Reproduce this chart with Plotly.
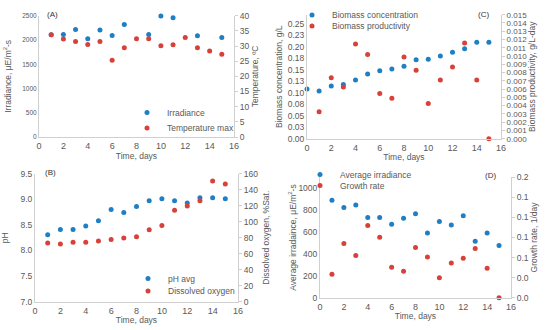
import plotly.graph_objects as go

# ---------------- data ----------------
days = list(range(1, 16))

# Panel A
irr_days = [1, 2, 3, 4, 5, 6, 7, 9, 10, 11, 13, 15]
irradiance = [2105, 2114, 2218, 2025, 2204, 2094, 2321, 2114, 2493, 2459, 2087, 2052]
temp_max = [33.7, 32.3, 31.5, 30.5, 31.5, 25.3, 29.4, 32.4, 32.4, 30.1, 30.4, 32.8, 29.4, 28.4, 27.3]

# Panel C
conc_days = list(range(0, 16))
biomass_conc = [0.108, 0.104, 0.115, 0.118, 0.128, 0.141, 0.148, 0.152, 0.158, 0.172,
                0.173, 0.180, 0.188, 0.196, 0.210, 0.210]
biomass_prod = [0.00327, 0.00738, 0.00625, 0.01145, 0.0102, 0.00548, 0.00488, 0.00988,
                0.00827, 0.00427, 0.0071, 0.00867, 0.01157, 0.0071, 0.0]
conc_tickvals = [0, 0.025, 0.05, 0.075, 0.1, 0.125, 0.15, 0.175, 0.2, 0.225, 0.25]
conc_ticktext = ['0.00', '0.03', '0.05', '0.08', '0.10', '0.13', '0.15', '0.18', '0.20', '0.23', '0.25']

# Panel B
ph_avg = [8.31, 8.41, 8.41, 8.48, 8.58, 8.80, 8.74, 8.86, 8.97, 9.01, 8.97, 8.93, 9.03, 9.03, 9.01]
dissolved_oxygen = [73.3, 72.1, 74.2, 74.2, 75.8, 77.9, 79.6, 81.3, 90.0, 95.4, 114.2, 119.6,
                    126.3, 150.8, 147.1]

# Panel D
avg_irradiance = [891, 824, 848, 733, 733, 670, 727, 767, 591, 697, 664, 748, 515, 591, 476]
growth_rate = [0.0292, 0.0675, 0.0525, 0.090, 0.0754, 0.0379, 0.0329, 0.0625, 0.0508, 0.025,
               0.0433, 0.0492, 0.0613, 0.0367, 0.0]
gr_tickvals = [0, 0.025, 0.05, 0.075, 0.1, 0.125, 0.15]
gr_ticktext = ['0.0', '0.0', '0.1', '0.1', '0.1', '0.1', '0.2']

x_ticks = [0, 2, 4, 6, 8, 10, 12, 14, 16]

# ---------------- style ----------------
BLUE = '#1f7fc4'
RED = '#d8413a'
TXT = '#595959'
LINE = '#d0d0d0'
FONT = 'Liberation Sans, Arial, sans-serif'
FS = 8.5
MS = 5

fig = go.Figure()

def sc(x, y, name, color, xa, ya, legend):
    fig.add_trace(go.Scatter(x=x, y=y, mode='markers', name=name, cliponaxis=False,
                             marker=dict(color=color, size=MS),
                             xaxis=xa, yaxis=ya, legend=legend))

sc(irr_days, irradiance, 'Irradiance', BLUE, 'x', 'y', 'legend')
sc(days, temp_max, 'Temperature max', RED, 'x', 'y2', 'legend2')
sc(conc_days, biomass_conc, 'Biomass concentration', BLUE, 'x2', 'y3', 'legend3')
sc(days, biomass_prod, 'Biomass productivity', RED, 'x2', 'y4', 'legend4')
sc(days, ph_avg, 'pH avg', BLUE, 'x3', 'y5', 'legend5')
sc(days, dissolved_oxygen, 'Dissolved oxygen', RED, 'x3', 'y6', 'legend6')
sc(days, avg_irradiance, 'Average irradiance', BLUE, 'x4', 'y7', 'legend7')
sc(days, growth_rate, 'Growth rate', RED, 'x4', 'y8', 'legend8')

def tfont(size=FS):
    return dict(size=size, color=TXT, family=FONT)

def xax(domain, anchor):
    return dict(domain=domain, anchor=anchor, range=[0, 16], tickvals=x_ticks, automargin=False,
                showline=True, linecolor=LINE, linewidth=1, showgrid=False, zeroline=False,
                ticks='', tickfont=tfont(9),
                title=dict(text='Time, days', font=tfont(8.5), standoff=0))

def yleft(domain, anchor, rng, title, tsize=FS, standoff=3, **kw):
    d = dict(domain=domain, anchor=anchor, range=rng, showline=True, linecolor=LINE, linewidth=1,
             showgrid=False, zeroline=False, ticks='', tickfont=tfont(tsize), automargin=False,
             title=dict(text=title, font=tfont(8.5), standoff=standoff))
    d.update(kw)
    return d

def yright(overlay, anchor, rng, title, tsize=FS, standoff=3, **kw):
    d = dict(overlaying=overlay, anchor=anchor, side='right', range=rng, showline=True,
             linecolor=LINE, linewidth=1, showgrid=False, zeroline=False, automargin=False,
             ticks='outside', ticklen=3, tickcolor=LINE, tickfont=tfont(tsize),
             title=dict(text=title, font=tfont(8.5), standoff=standoff))
    d.update(kw)
    return d

dA_x = [39/550, 234/550]; dA_y = [1-137/330, 1-15.7/330]
dC_x = [307/550, 501/550]; dC_y = [1-138.7/330, 1-14.7/330]
dB_x = [35/550, 238/550]; dB_y = [1-301.7/330, 1-173.7/330]
dD_x = [320/550, 511/550]; dD_y = [1-297.7/330, 1-177.3/330]

def leg(text_x, item_y):
    return dict(x=(text_x - 40) / 550, y=1 - item_y / 330, xanchor='left', yanchor='middle',
                bgcolor='rgba(0,0,0,0)', font=tfont(8.5), itemsizing='trace', borderwidth=0)

fig.update_layout(
    width=550, height=330, margin=dict(l=0, r=0, t=0, b=0, autoexpand=False),
    paper_bgcolor='white', plot_bgcolor='white',
    font=dict(family=FONT, color=TXT),
    showlegend=True,
    xaxis=xax(dA_x, 'y'),
    yaxis=yleft(dA_y, 'x', [0, 2500], 'Irradiance, μE/m<sup>2</sup>-s', tsize=6.5, standoff=9,
                tickvals=[0, 500, 1000, 1500, 2000, 2500]),
    yaxis2=yright('y', 'x', [0, 40], 'Temperature, ºC', tickvals=list(range(0, 41, 5))),
    xaxis2=xax(dC_x, 'y3'),
    yaxis3=yleft(dC_y, 'x2', [0, 0.27], 'Biomass concentration, g/L',
                 tickvals=conc_tickvals, ticktext=conc_ticktext),
    yaxis4=yright('y3', 'x2', [0, 0.015], 'Biomass productivity, g/L-day', tsize=8, standoff=2,
                  tickvals=[i / 1000 for i in range(0, 16)], tickformat='.3f'),
    xaxis3=xax(dB_x, 'y5'),
    yaxis5=yleft(dB_y, 'x3', [7.0, 9.5], 'pH', standoff=10,
                 tickvals=[7.0, 7.5, 8.0, 8.5, 9.0, 9.5], tickformat='.1f'),
    yaxis6=yright('y5', 'x3', [0, 160], 'Dissolved oxygen, %Sat.', standoff=5,
                  tickvals=list(range(0, 161, 20))),
    xaxis4=xax(dD_x, 'y7'),
    yaxis7=yleft(dD_y, 'x4', [0, 1100], 'Average irradaince, μE/m<sup>2</sup>-s', standoff=0,
                 tickvals=[0, 200, 400, 600, 800, 1000]),
    yaxis8=yright('y7', 'x4', [0, 0.15], 'Growth rate, 1/day',
                  tickvals=gr_tickvals, ticktext=gr_ticktext),
    legend=leg(167, 112.5),
    legend2=leg(167, 128),
    legend3=leg(332, 15),
    legend4=leg(332, 26),
    legend5=leg(168, 278.5),
    legend6=leg(168, 291),
    legend7=leg(340, 174.5),
    legend8=leg(340, 185.5),
)

for txt, x, y in [('(A)', 52, 14), ('(C)', 483, 14), ('(B)', 50, 172), ('(D)', 490, 175)]:
    fig.add_annotation(text=txt, x=x/550, y=1-y/330, xref='paper', yref='paper',
                       showarrow=False, font=dict(size=8, color='#333333', family=FONT),
                       xanchor='center', yanchor='middle')

fig.write_html('out.html', config={'displayModeBar': False},
               post_script="document.body.style.margin='0';")
